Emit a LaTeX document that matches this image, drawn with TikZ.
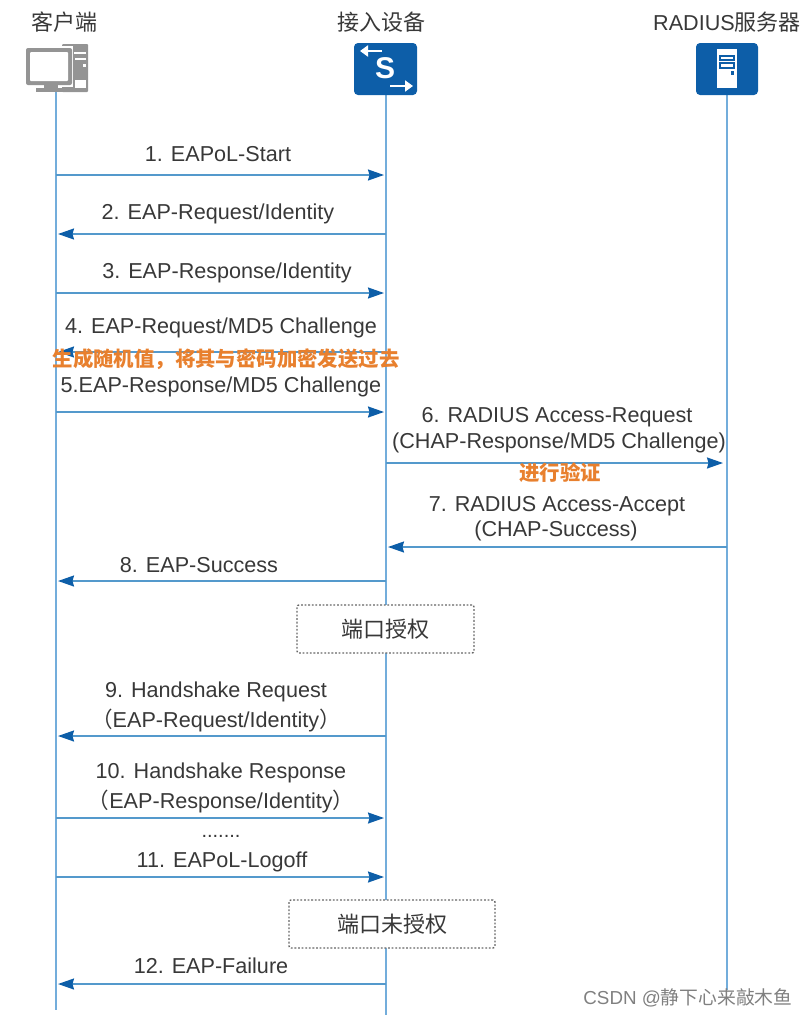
\documentclass[tikz,border=0pt]{standalone}
\usepackage{fontspec}
\setmainfont{Liberation Sans}
\newfontfamily\cjk{Noto Sans CJK SC}
\usetikzlibrary{arrows.meta,calc}
\definecolor{LaneClr}{rgb}{0.45,0.68,0.86}
\definecolor{MsgClr}{rgb}{0.33,0.60,0.80}
\definecolor{IconClr}{rgb}{0.05,0.37,0.66}
\definecolor{PcClr}{rgb}{0.58,0.58,0.58}
\definecolor{NoteClr}{rgb}{0.91,0.50,0.18}
\definecolor{TextClr}{rgb}{0.22,0.22,0.22}
\tikzset{
  lane/.style={line width=2.2pt,color=LaneClr},
  msg/.style={line width=1.6pt,color=MsgClr,shorten >=2pt,-{Stealth[inset=1.5pt,length=16pt,width=11pt,color=IconClr]}},
  lbl/.style={font=\fontsize{21.6}{26}\selectfont,text=TextClr,inner sep=0pt},
  head/.style={font=\fontsize{22}{26}\selectfont\cjk,text=TextClr,inner sep=0pt},
  note/.style={font=\fontsize{20.4}{24}\selectfont\bfseries\cjk,text=NoteClr,inner sep=0pt},
  portbox/.style={draw=black!60,line width=1.4pt,dash pattern=on 1.8pt off 1.8pt,rounded corners=2pt,fill=white,font=\fontsize{22}{26}\selectfont\cjk,text=TextClr},
  icon/.style={fill=IconClr,rounded corners=4pt},
  iconarrow/.style={white,line width=2.4pt,-{Stealth[inset=0pt,length=8pt,width=11pt]}},
}
\begin{document}
\begin{tikzpicture}[x=1pt,y=-1pt]
\useasboundingbox (0,0) rectangle (810,1017);

% lanes
\coordinate (ClientTop) at (56,92);
\coordinate (ClientEnd) at (56,1010);
\coordinate (DevTop) at (386,95);
\coordinate (DevEnd) at (386,1015);
\coordinate (RadTop) at (727,95);
\coordinate (RadEnd) at (727,990);
\draw[lane] (ClientTop) -- (ClientEnd);
\draw[lane] (DevTop) -- (DevEnd);
\draw[lane] (RadTop) -- (RadEnd);

\node[head] (ClientName) at (64,22) {客户端};
\node[head] (DevName) at (381,22) {接入设备};
\node[head] (RadName) at (727,22) {{\rmfamily\fontsize{21.6}{26}\selectfont RADIUS}服务器};

% client icon
\fill[PcClr,rounded corners=1pt] (62,44) rectangle (88,92);
\fill[white] (74,52) rectangle (86,54);
\fill[white] (75,58) rectangle (86,60);
\fill[white] (83,64) rectangle (86,67);
\fill[white] (75,80) rectangle (86,88);
\fill[white] (24,46) rectangle (73,87);
\fill[PcClr,rounded corners=2pt] (26,48) rectangle (72,85);
\fill[white,rounded corners=1pt] (30,52) rectangle (68,81);
\fill[PcClr] (44,85) rectangle (58,88);
\fill[PcClr] (36,88) rectangle (64,92);

% switch icon
\fill[icon] (354,43) rectangle (417,95);
\draw[iconarrow] (382,51) -- (360,51);
\draw[iconarrow] (390,86) -- (413,86);
\node[font=\fontsize{30}{30}\selectfont\bfseries,text=white,inner sep=0pt] (DevS) at (385,68) {S};

% server icon
\fill[icon] (696,43) rectangle (758,95);
\fill[white] (717,49) rectangle (737,88);
\draw[IconClr,line width=1.2pt] (720,56) rectangle (734,60);
\draw[IconClr,line width=1.2pt] (720,63) rectangle (734,68);
\fill[IconClr] (731,71) rectangle (734,75);

% message ends
\foreach \n/\y in {1/175,2/234,3/293,4/352,5/412,8/581,9/736,10/818,11/877,12/984}{
  \coordinate (C\n) at (56,\y);
  \coordinate (D\n) at (386,\y);
}
\coordinate (D6) at (386,463);
\coordinate (R6) at (725,463);
\coordinate (D7) at (386,547);
\coordinate (R7) at (727,547);

\draw[msg] (C1) -- (D1);
\draw[msg] (D2) -- (C2);
\draw[msg] (C3) -- (D3);
\draw[msg] (D4) -- (C4);
\draw[msg] (C5) -- (D5);
\draw[msg] (D6) -- (R6);
\draw[msg] (R7) -- (D7);
\draw[msg] (D8) -- (C8);
\draw[msg] (D9) -- (C9);
\draw[msg] (C10) -- (D10);
\draw[msg] (C11) -- (D11);
\draw[msg] (D12) -- (C12);

\node[lbl] (L1) at (218,154) {1. EAPoL-Start};
\node[lbl] (L2) at (218,214) {2. EAP-Request/Identity};
\node[lbl] (L3) at (227,273) {3. EAP-Response/Identity};
\node[lbl] (L4) at (221,328) {4. EAP-Request/MD5 Challenge};
\node[note] (N5) at (226,359) {生成随机值，将其与密码加密发送过去};
\node[lbl] (L5) at (221,387) {5.EAP-Response/MD5 Challenge};
\node[lbl] (L6a) at (557,417) {6. RADIUS Access-Request};
\node[lbl] (L6b) at (559,443) {(CHAP-Response/MD5 Challenge)};
\node[note] (N6) at (560,473) {进行验证};
\node[lbl] (L7a) at (557,506) {7. RADIUS Access-Accept};
\node[lbl] (L7b) at (556,531) {(CHAP-Success)};
\node[lbl] (L8) at (199,565) {8. EAP-Success};
\node[lbl] (L9a) at (216,692) {9. Handshake Request};
\node[lbl] (L9b) at (216,720) {{\cjk（}EAP-Request/Identity{\cjk）}};
\node[lbl] (L10a) at (221,773) {10. Handshake Response};
\node[lbl] (L10b) at (221,801) {{\cjk（}EAP-Response/Identity{\cjk）}};
\node[lbl,font=\fontsize{20}{24}\selectfont] (LDots) at (221,836) {.......};
\node[lbl] (L11) at (222,862) {11. EAPoL-Logoff};
\node[lbl] (L12) at (211,966) {12. EAP-Failure};

\node[portbox,minimum width=177pt,minimum height=48pt] (PortOn) at (385.5,629) {端口授权};
\node[portbox,minimum width=206pt,minimum height=48pt] (PortOff) at (392,924) {端口未授权};

\node[font=\fontsize{18.8}{22}\selectfont,text=black!50,inner sep=0pt] (Mark) at (688,998) {CSDN @{\cjk 静下心来敲木鱼}};
\end{tikzpicture}
\end{document}
